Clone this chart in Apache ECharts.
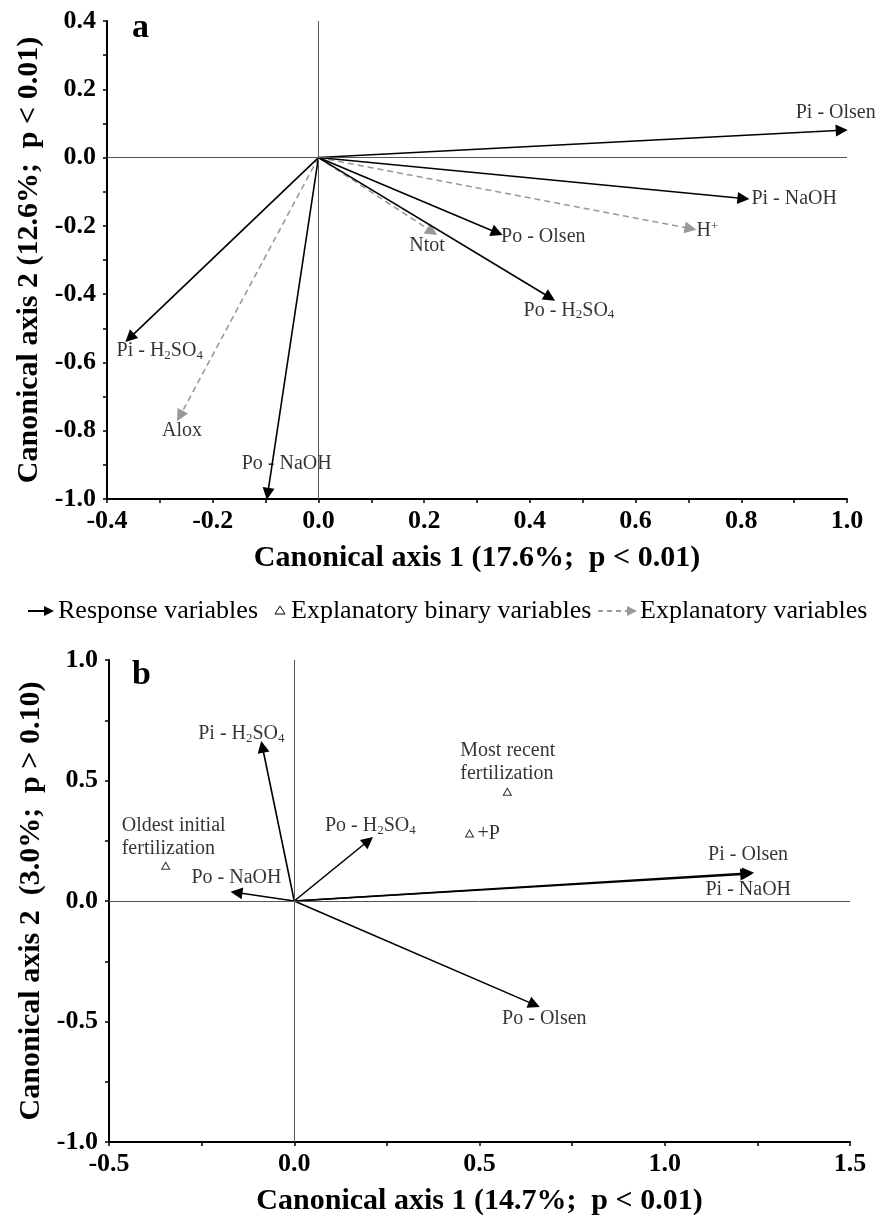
<!DOCTYPE html>
<html>
<head>
<meta charset="utf-8">
<title>Canonical axes</title>
<script src="https://cdn.jsdelivr.net/npm/echarts@6.0.0/dist/echarts.min.js"></script>
<style>
  html, body { margin: 0; padding: 0; background: #fff; }
  #main { width: 882px; height: 1220px; }
</style>
</head>
<body>
<div id="main"></div>
<script>
// panel a: response vectors (black) and explanatory vectors (grey dashed)
var respA = ['Pi - Olsen', 'Pi - NaOH', 'Po - Olsen', 'Po - H2SO4', 'Pi - H2SO4', 'Po - NaOH'];
var respAx = [0.99, 0.804, 0.338, 0.438, -0.357, -0.096];
var respAy = [0.08, -0.12, -0.22, -0.41, -0.528, -0.985];
var explA = ['H+', 'Ntot', 'Alox'];
var explAx = [0.704, 0.215, -0.262];
var explAy = [-0.208, -0.217, -0.757];

// panel b: response vectors and binary explanatory points
var respB = ['Pi - Olsen', 'Pi - NaOH', 'Po - Olsen', 'Po - H2SO4', 'Pi - H2SO4', 'Po - NaOH'];
var respBx = [1.225, 1.22, 0.648, 0.20, -0.086, -0.156];
var respBy = [0.116, 0.111, -0.43, 0.25, 0.64, 0.035];
var binB = ['Most recent\nfertilization', '+P', 'Oldest initial\nfertilization'];
var binBx = [0.575, 0.473, -0.347];
var binBy = [0.453, 0.28, 0.146];

// tick labels
var xTicksA = [-0.4, -0.2, 0.0, 0.2, 0.4, 0.6, 0.8, 1.0];
var yTicksA = [-1.0, -0.8, -0.6, -0.4, -0.2, 0.0, 0.2, 0.4];
var xTicksB = [-0.5, 0.0, 0.5, 1.0, 1.5];
var yTicksB = [-1.0, -0.5, 0.0, 0.5, 1.0];

var FONT = '"Liberation Serif", "Times New Roman", serif';

// label placement (pixel offset from the point, text align)
var labA = {
  'Pi - Olsen': [-6, -18, 'center'],
  'Pi - NaOH': [8, 0, 'left'],
  'Po - Olsen': [4, 4, 'left'],
  'Po - H2SO4': [19, 13, 'center'],
  'Pi - H2SO4': [30, 13, 'center'],
  'Po - NaOH': [19, -30, 'center'],
  'H+': [6, 2, 'left'],
  'Ntot': [-5, 14, 'center'],
  'Alox': [2, 15, 'center']
};
var labB = {
  'Pi - Olsen': [0, -18, 'center'],
  'Pi - NaOH': [2, 16, 'center'],
  'Po - Olsen': [10, 14, 'center'],
  'Po - H2SO4': [2, -15, 'center'],
  'Pi - H2SO4': [-21, -13, 'center'],
  'Po - NaOH': [0, -15, 'center'],
  'Most recent\nfertilization': [-47, -30, 'left'],
  '+P': [8, 0, 'left'],
  'Oldest initial\nfertilization': [-44, -29, 'left']
};

function richName(name) {
  if (name === 'H+') return 'H{u|+}';
  return name.replace(/([0-9])/g, '{s|$1}');
}

var rich = {
  s: { fontSize: 13, fontFamily: FONT, color: '#000', padding: [9, 0, 0, 0] },
  u: { fontSize: 13, fontFamily: FONT, color: '#000', padding: [0, 0, 9, 0] }
};

function labelItems(names, xs, ys, lab) {
  return names.map(function (n, i) {
    var p = lab[n];
    return {
      name: n,
      value: [xs[i], ys[i]],
      label: { offset: [p[0], p[1]], align: p[2] }
    };
  });
}

function vectorItems(xs, ys) {
  return xs.map(function (x, i) {
    return { coords: [[0, 0], [x, ys[i]]] };
  });
}

function fmt(v) {
  if (Math.abs(v) < 1e-9) return '0.0';
  return v.toFixed(1);
}

function valueAxis(gridIndex, ticks, name, nameGap, isY) {
  return {
    type: 'value',
    gridIndex: gridIndex,
    min: ticks[0],
    max: ticks[ticks.length - 1],
    interval: Math.round((ticks[1] - ticks[0]) * 100) / 100,
    name: name,
    nameLocation: 'middle',
    nameGap: nameGap,
    nameTextStyle: { fontFamily: FONT, fontWeight: 'bold', fontSize: 30, color: '#000' },
    axisLine: { show: true, onZero: false, lineStyle: { color: '#000', width: 2 } },
    axisTick: { show: true, inside: false, length: 4, lineStyle: { color: '#000', width: 1.5 } },
    minorTick: { show: true, splitNumber: 2, length: 4, lineStyle: { color: '#000', width: 1.5 } },
    splitLine: { show: false },
    minorSplitLine: { show: false },
    axisLabel: {
      fontFamily: FONT, fontWeight: 'bold', fontSize: 26, color: '#000',
      margin: isY ? 11 : 9,
      formatter: fmt
    }
  };
}

function zeroLines(gridIndex) {
  return {
    type: 'line',
    xAxisIndex: gridIndex,
    yAxisIndex: gridIndex,
    data: [],
    silent: true,
    markLine: {
      silent: true,
      symbol: 'none',
      label: { show: false },
      lineStyle: { color: '#555', width: 1, type: 'solid' },
      data: [{ xAxis: 0 }, { yAxis: 0 }]
    }
  };
}

function vectorSeries(gridIndex, xs, ys, color, dashed) {
  return {
    type: 'lines',
    coordinateSystem: 'cartesian2d',
    xAxisIndex: gridIndex,
    yAxisIndex: gridIndex,
    silent: true,
    symbol: ['none', 'triangle'],
    symbolSize: [10, 12],
    symbolOffset: [0, 6],
    lineStyle: { color: color, width: 1.6, type: dashed ? [6, 4] : 'solid', opacity: 1 },
    data: vectorItems(xs, ys),
    z: 3
  };
}

function labelSeries(gridIndex, items, symbolOpts) {
  return Object.assign({
    type: 'scatter',
    xAxisIndex: gridIndex,
    yAxisIndex: gridIndex,
    silent: true,
    symbolSize: 0,
    label: {
      show: true,
      position: 'inside',
      verticalAlign: 'middle',
      fontFamily: FONT,
      fontSize: 20,
      lineHeight: 23,
      color: '#000',
      textBorderWidth: 0,
      formatter: function (p) { return richName(p.name); },
      rich: rich
    },
    data: items,
    z: 4
  }, symbolOpts || {});
}

var myChart = echarts.init(document.getElementById('main'), null, { renderer: 'canvas' });

var option = {
  animation: false,
  backgroundColor: '#fff',
  grid: [
    { left: 107, top: 21, width: 740, height: 478 },
    { left: 109, top: 660, width: 741, height: 482 }
  ],
  xAxis: [
    valueAxis(0, xTicksA, 'Canonical axis 1 (17.6%;  p < 0.01)', 44, false),
    valueAxis(1, xTicksB, 'Canonical axis 1 (14.7%;  p < 0.01)', 44, false)
  ],
  yAxis: [
    valueAxis(0, yTicksA, 'Canonical axis 2 (12.6%;  p < 0.01)', 63, true),
    valueAxis(1, yTicksB, 'Canonical axis 2  (3.0%;  p > 0.10)', 63, true)
  ],
  graphic: [
    { type: 'text', x: 132, y: 28, style: { text: 'a', font: 'bold 34px ' + FONT, fill: '#000', verticalAlign: 'middle' } },
    { type: 'text', x: 132, y: 675, style: { text: 'b', font: 'bold 34px ' + FONT, fill: '#000', verticalAlign: 'middle' } },
    // legend
    { type: 'line', shape: { x1: 28, y1: 611, x2: 46, y2: 611 }, style: { stroke: '#000', lineWidth: 2 } },
    { type: 'polygon', shape: { points: [[44, 606], [54, 611], [44, 616]] }, style: { fill: '#000' } },
    { type: 'text', x: 58, y: 611, style: { text: 'Response variables', font: '26px ' + FONT, fill: '#000', verticalAlign: 'middle' } },
    { type: 'polygon', shape: { points: [[275, 614], [280, 606], [285, 614]] }, style: { fill: '#fff', stroke: '#000', lineWidth: 1 } },
    { type: 'text', x: 291, y: 611, style: { text: 'Explanatory binary variables', font: '26px ' + FONT, fill: '#000', verticalAlign: 'middle' } },
    { type: 'line', shape: { x1: 598, y1: 611, x2: 628, y2: 611 }, style: { stroke: '#999', lineWidth: 2, lineDash: [5, 4] } },
    { type: 'polygon', shape: { points: [[627, 606], [637, 611], [627, 616]] }, style: { fill: '#999' } },
    { type: 'text', x: 640, y: 611, style: { text: 'Explanatory variables', font: '26px ' + FONT, fill: '#000', verticalAlign: 'middle' } }
  ],
  series: [
    zeroLines(0),
    zeroLines(1),
    vectorSeries(0, explAx, explAy, '#999', true),
    vectorSeries(0, respAx, respAy, '#000', false),
    vectorSeries(1, respBx, respBy, '#000', false),
    labelSeries(0, labelItems(respA, respAx, respAy, labA)),
    labelSeries(0, labelItems(explA, explAx, explAy, labA)),
    labelSeries(1, labelItems(respB, respBx, respBy, labB)),
    labelSeries(1, labelItems(binB, binBx, binBy, labB), {
      symbol: 'triangle',
      symbolSize: [8, 7],
      itemStyle: { color: '#fff', borderColor: '#000', borderWidth: 1 }
    })
  ]
};

myChart.setOption(option);
</script>
</body>
</html>
